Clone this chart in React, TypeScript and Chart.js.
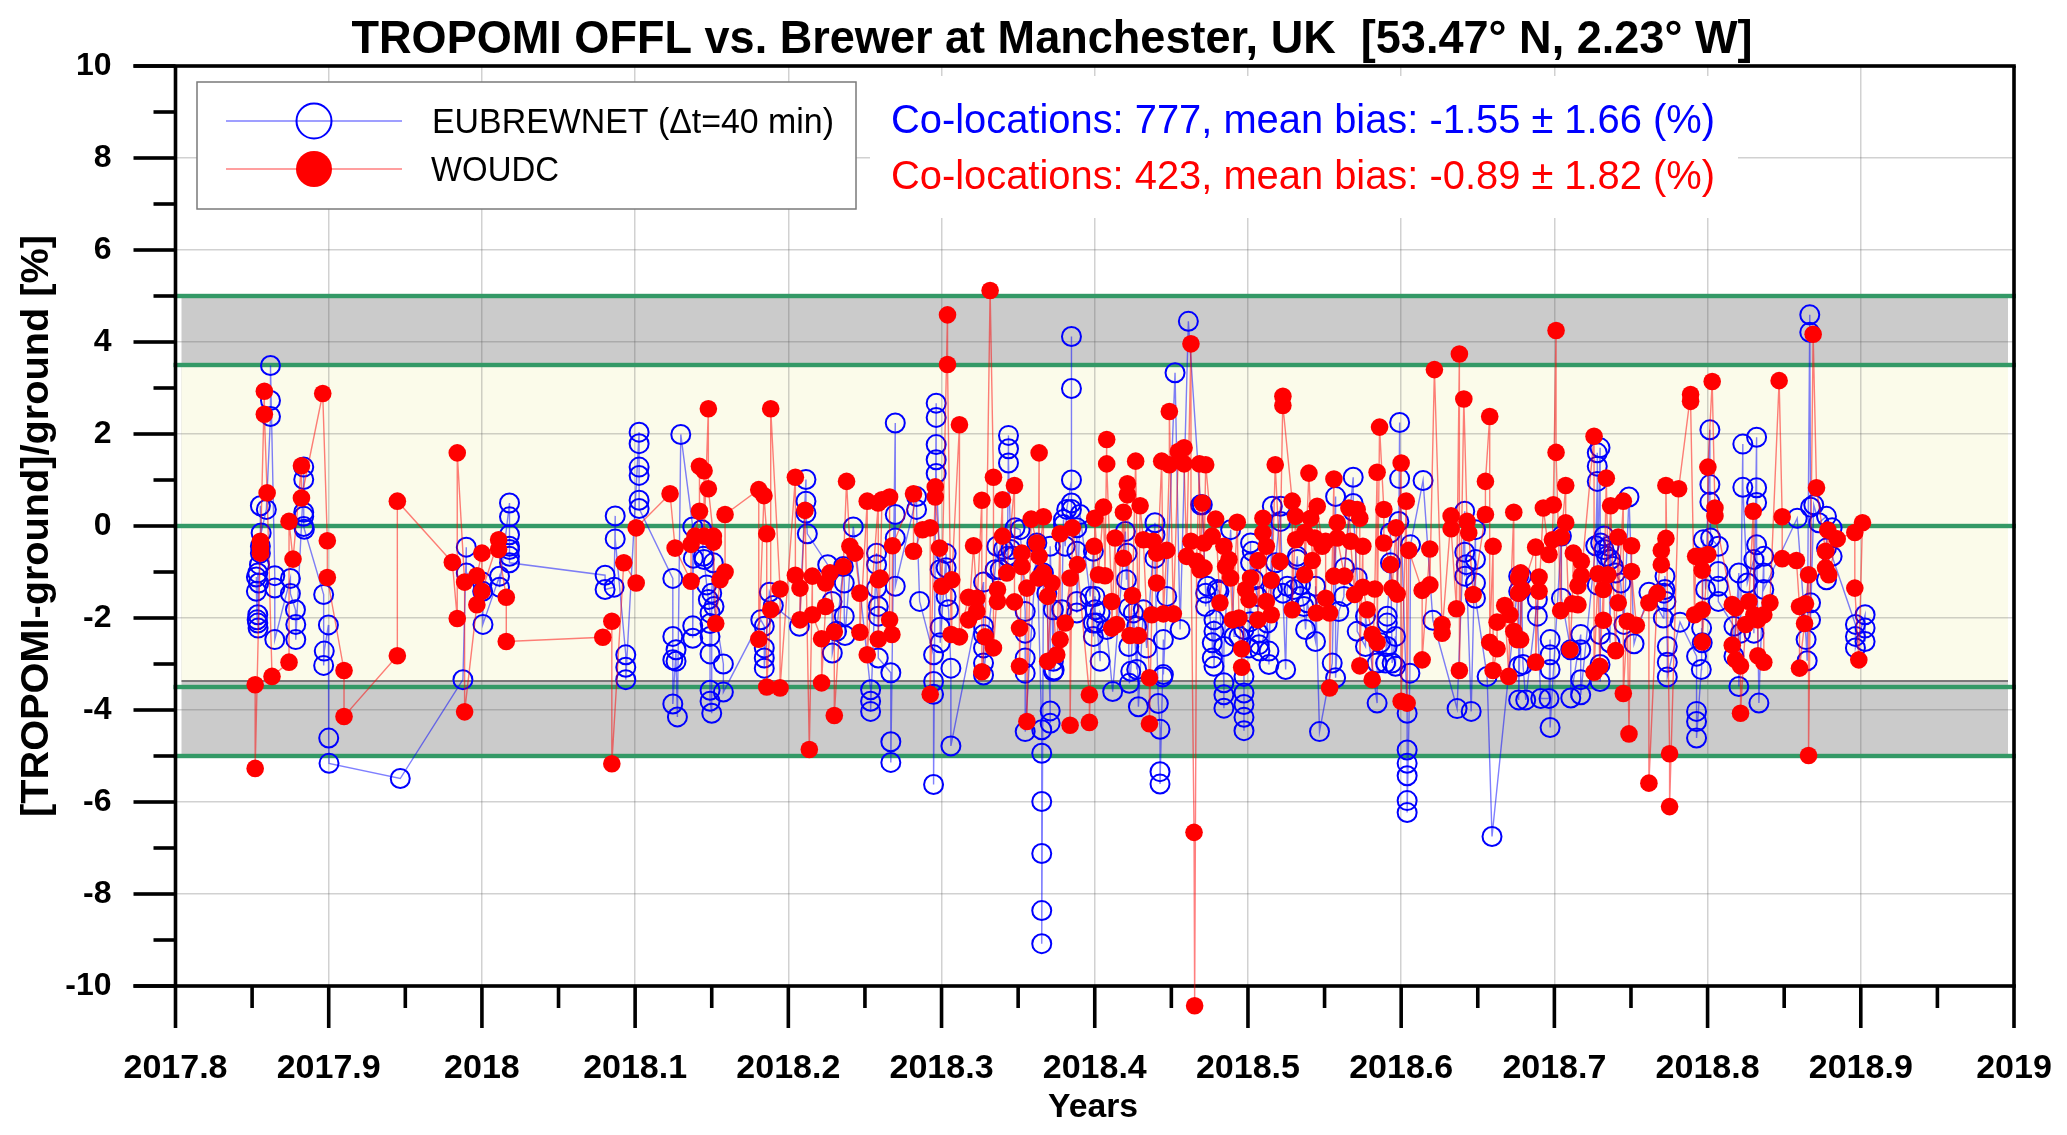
import React, { useEffect, useRef } from "react";
import { Chart, registerables } from "chart.js";

Chart.register(...registerables);

type P = [number, number];

const xTickValues = [2017.8, 2017.9, 2018, 2018.1, 2018.2, 2018.3, 2018.4, 2018.5, 2018.6, 2018.7, 2018.8, 2018.9, 2019];
const xTickLabels = ["2017.8", "2017.9", "2018", "2018.1", "2018.2", "2018.3", "2018.4", "2018.5", "2018.6", "2018.7", "2018.8", "2018.9", "2019"];

const titleText = "TROPOMI OFFL vs. Brewer at Manchester, UK  [53.47° N, 2.23° W]";
const yTitleText = "[TROPOMI-ground]/ground [%]";
const xTitleText = "Years";
const blueStats = "Co-locations: 777, mean bias: -1.55 ± 1.66 (%)";
const redStats = "Co-locations: 423, mean bias: -0.89 ± 1.82 (%)";
const blueName = "EUBREWNET (Δt=40 min)";
const redName = "WOUDC";
const greenLevels = [5, 3.5, 0, -3.5, -5];

const blueA: P[] = [
[2017.8528,-1.11],[2017.8528,-1.42],[2017.8537,-1.93],[2017.8533,-2.04],[2017.8539,-2.22],[2017.8537,-2.11],[2017.8543,-1.24],[2017.8537,-1.02],[2017.8548,-0.84],[2017.8554,-0.59],[2017.8554,-0.44],[2017.8559,-0.15],[2017.8554,0.44],[2017.8593,0.36],[2017.862,2.38],[2017.862,2.73],[2017.862,3.49],[2017.8648,-1.08],[2017.8648,-1.35],[2017.8648,-2.47],
[2017.875,-1.14],[2017.875,-1.47],[2017.8783,-1.82],[2017.8785,-2.14],[2017.8785,-2.47],[2017.8837,1.01],[2017.8837,1.28],[2017.8837,0.3],[2017.8837,0.21],[2017.8837,-0.01],[2017.8841,-0.07],
[2017.8967,-1.49],[2017.8971,-2.72],[2017.8967,-3.03],[2017.8998,-2.15],[2017.9,-4.61],[2017.9002,-5.16],[2017.9467,-5.49],[2017.9876,-3.34],[2017.9898,-0.46],[2017.9898,-1.02],[2018.0003,-1.22],[2018.0005,-1.42],[2018.0007,-2.14],
[2018.0115,-1.09],[2018.0115,-1.33],[2018.018,0.5],[2018.018,0.2],[2018.018,-0.19],[2018.018,-0.44],[2018.018,-0.51],[2018.018,-0.66],[2018.018,-0.8],
[2018.0804,-1.07],[2018.0804,-1.38],[2018.0863,-1.33],[2018.087,0.22],[2018.087,-0.28],[2018.0939,-2.8],[2018.0939,-3.07],[2018.0939,-3.34],
[2018.1026,2.04],[2018.1026,1.79],[2018.1026,1.28],[2018.1026,1.1],[2018.1026,0.56],[2018.1026,0.38],
];

const blueB: P[] = [
[2018.1246,-1.14],[2018.1246,-2.4],[2018.1267,-2.69],[2018.1246,-2.91],[2018.1267,-2.94],[2018.1246,-3.87],[2018.1276,-4.15],[2018.1298,1.99],
[2018.1376,-0.02],[2018.138,-0.7],[2018.1376,-2.17],[2018.1376,-2.44],[2018.1435,-0.08],[2018.1446,-0.66],[2018.145,-0.73],[2018.1467,-1.28],[2018.1478,-1.6],[2018.1489,-1.89],[2018.1489,-2.12],[2018.1489,-2.4],[2018.1489,-2.78],[2018.1489,-3.57],[2018.1489,-3.81],[2018.15,-4.07],[2018.151,-0.8],[2018.15,-1.46],[2018.1515,-1.75],
[2018.1576,-3.0],[2018.1576,-3.61],[2018.182,-2.04],[2018.1843,-2.18],[2018.1843,-2.65],[2018.1843,-2.87],[2018.1843,-3.09],[2018.1876,-1.44],[2018.1902,-1.73],[2018.2072,-2.18],
[2018.2115,1.01],[2018.2115,0.54],[2018.2115,0.28],[2018.2124,-0.17],[2018.2257,-0.84],[2018.2285,-1.64],[2018.2287,-2.76],[2018.2315,-2.29],[2018.2359,-0.88],[2018.2365,-1.24],[2018.2365,-1.96],[2018.237,-2.38],[2018.2424,-0.02],
[2018.2537,-3.56],[2018.2537,-3.81],[2018.2537,-4.03],[2018.2576,-0.59],[2018.2576,-0.84],[2018.2576,-1.35],[2018.2587,-1.75],[2018.2587,-1.96],[2018.2587,-2.87],
[2018.2669,-3.19],[2018.2669,-4.69],[2018.2669,-5.14],[2018.2698,2.24],[2018.2698,0.25],[2018.2698,-0.26],[2018.2698,-1.31],[2018.2837,0.64],[2018.2837,0.36],[2018.2857,-1.64],
];

const blueC: P[] = [
[2018.2948,-2.8],[2018.2948,-3.38],[2018.2948,-3.66],[2018.2948,-5.62],[2018.2965,2.67],[2018.2965,2.36],[2018.2965,1.77],[2018.2965,1.44],[2018.2965,1.14],[2018.2991,-0.95],[2018.2991,-2.2],[2018.2991,-2.54],[2018.303,-0.6],[2018.303,-0.91],[2018.303,-1.53],[2018.3046,-1.82],[2018.3061,-3.09],[2018.3061,-4.78],
[2018.3274,-1.22],[2018.3274,-2.18],[2018.3274,-2.36],[2018.3274,-2.65],[2018.3274,-2.98],[2018.3274,-3.24],[2018.335,-0.95],[2018.3361,-0.44],[2018.3437,1.97],[2018.3437,1.68],[2018.3437,1.37],[2018.3452,-0.51],[2018.343,-0.66],[2018.348,-0.04],[2018.3513,-0.08],
[2018.3546,-1.86],[2018.3546,-2.33],[2018.3546,-2.87],[2018.3546,-3.2],[2018.3546,-4.47],[2018.3622,-0.37],[2018.3654,-4.43],[2018.3654,-4.94],[2018.3654,-5.99],[2018.3654,-7.12],[2018.3654,-8.36],[2018.3654,-9.08],[2018.3665,-1.02],[2018.3687,-1.46],[2018.3709,-4.02],[2018.3709,-4.29],[2018.373,-2.94],[2018.373,-3.16],[2018.3735,-3.13],
[2018.3785,-1.82],[2018.3796,0.14],[2018.3796,0.03],[2018.3807,-0.44],[2018.3817,0.36],[2018.3848,1.0],[2018.3848,2.99],[2018.3848,4.12],[2018.3848,0.5],[2018.3848,0.36],[2018.3883,-0.04],[2018.3883,-0.55],[2018.3883,-1.64],[2018.3904,0.25],
[2018.3991,-0.55],[2018.4002,-1.53],[2018.4002,-1.82],[2018.4013,-2.11],[2018.3991,-2.4],[2018.4035,-2.94],[2018.4117,-3.6],[2018.42,-0.12],[2018.4211,-0.59],[2018.4207,-1.17],[2018.4222,-1.78],[2018.4222,-2.62],[2018.4226,-3.42],[2018.4235,-3.16],
[2018.4274,-3.12],[2018.4285,-3.93],[2018.4317,-1.82],[2018.4393,0.07],[2018.4393,-0.19],[2018.4393,-0.7],[2018.4415,-3.86],[2018.4426,-4.42],[2018.4426,-5.34],[2018.4426,-5.61],[2018.4443,-3.28],[2018.4448,-2.47],[2018.4448,-3.23],[2018.447,-1.53],[2018.4524,3.33],[2018.4557,-2.25],[2018.4611,4.45],[2018.4691,0.46],
];

const blueD: P[] = [
[2018.4702,0.46],[2018.4724,-1.46],[2018.4767,-2.54],[2018.4767,-2.87],[2018.4778,-2.04],[2018.4778,-2.29],[2018.4811,-1.42],[2018.4843,-3.41],[2018.4843,-3.67],[2018.4843,-3.96],[2018.4843,-2.62],[2018.4887,-0.08],[2018.4909,-2.4],
[2018.4974,-3.27],[2018.4974,-3.63],[2018.4974,-3.88],[2018.4974,-4.16],[2018.4974,-4.45],[2018.5007,-2.65],[2018.5017,-0.37],[2018.5028,-0.55],[2018.5017,-0.8],[2018.5039,-1.17],[2018.5061,-1.53],[2018.5068,-2.33],[2018.5078,-2.72],[2018.5137,-2.72],[2018.5137,-3.01],
[2018.5159,0.43],[2018.5159,-1.38],[2018.518,-0.8],[2018.5213,0.43],[2018.5213,0.1],[2018.5228,-1.46],[2018.5246,-3.12],[2018.53,-1.38],[2018.5322,-0.66],[2018.5322,-0.73],[2018.5343,-1.53],[2018.5376,-2.25],[2018.5387,-1.67],[2018.5441,-2.51],[2018.5441,-1.31],[2018.5467,-4.47],
[2018.555,-2.98],[2018.5572,0.64],[2018.5572,-3.3],[2018.5593,-1.86],[2018.563,-0.91],[2018.5687,1.06],[2018.5687,0.49],[2018.5687,0.32],[2018.5713,-1.13],[2018.5713,-2.29],[2018.5767,-2.62],[2018.5767,-1.96],[2018.5843,-3.85],[2018.5843,-2.98],[2018.5898,-2.98],[2018.5909,-2.11],[2018.5909,-2.62],[2018.593,-0.8],[2018.593,-0.15],[2018.5963,-2.4],[2018.5963,-3.05],[2018.5985,0.1],[2018.599,2.25],[2018.599,1.03],
[2018.6039,-4.07],[2018.6039,-4.87],[2018.6039,-5.16],[2018.6039,-5.43],[2018.6039,-5.97],[2018.6039,-6.23],[2018.6057,-3.2],[2018.6061,-0.41],[2018.6143,0.99],[2018.6207,-2.05],[2018.6365,-3.97],[2018.6415,0.32],[2018.6415,-0.57],[2018.6415,-1.09],[2018.6425,-0.84],[2018.6457,-4.03],[2018.6485,-0.08],[2018.6485,-0.73],[2018.6485,-1.24],[2018.6485,-1.57],[2018.6561,-3.27],[2018.6593,-6.75],[2018.6767,-1.09],[2018.6767,-1.42],[2018.6767,-3.05],[2018.6767,-3.78],
];

const blueE: P[] = [
[2018.6785,-1.09],[2018.6795,-3.01],[2018.6813,-3.78],[2018.6889,-1.6],[2018.6889,-1.96],[2018.6911,-3.75],[2018.6972,-2.47],[2018.6972,-2.8],[2018.6972,-3.12],[2018.6965,-3.75],[2018.6972,-4.38],[2018.7046,-0.22],[2018.7046,-1.57],[2018.7107,-2.69],[2018.7107,-3.74],[2018.7172,-2.36],[2018.7172,-2.69],[2018.7172,-3.34],[2018.7172,-3.67],
[2018.727,-0.43],[2018.728,0.97],[2018.728,1.3],[2018.7298,1.7],[2018.728,1.59],[2018.728,-1.28],[2018.7298,-2.36],[2018.7298,-3.01],[2018.7298,-3.38],[2018.7324,-0.22],[2018.7324,-0.51],[2018.7341,-0.66],[2018.7363,-2.54],[2018.7367,-0.73],[2018.74,-1.02],[2018.7433,-1.24],[2018.7454,-2.14],[2018.7487,0.63],[2018.752,-2.56],
[2018.7617,-1.44],[2018.7711,-2.0],[2018.7722,-1.09],[2018.7722,-1.38],[2018.7728,-1.64],[2018.7737,-2.62],[2018.7737,-2.96],[2018.7737,-3.28],[2018.782,-2.09],
[2018.7928,-2.83],[2018.7928,-4.03],[2018.7928,-4.25],[2018.7928,-4.61],[2018.7965,-2.54],[2018.7961,-2.22],[2018.7959,-3.12],[2018.7987,-1.38],[2018.7972,-0.3],[2018.8015,2.09],[2018.8015,0.9],[2018.8015,0.52],[2018.802,-0.26],[2018.807,-0.44],[2018.807,-0.99],[2018.807,-1.31],[2018.807,-1.64],
[2018.8172,-2.18],[2018.8172,-2.83],[2018.8204,-1.02],[2018.8204,-3.49],[2018.8215,-2.33],[2018.823,1.78],[2018.823,0.84],[2018.8259,-1.24],[2018.8302,-0.73],[2018.832,1.93],[2018.832,0.83],[2018.832,0.51],[2018.832,-0.41],[2018.8335,-3.85],[2018.8367,-0.66],[2018.8367,-1.02],[2018.8367,-1.38],
[2018.8585,0.17],[2018.8643,-2.47],[2018.865,-2.93],[2018.8667,4.59],[2018.8667,4.21],[2018.8672,0.41],[2018.8672,-1.67],[2018.8672,-2.04],[2018.8693,0.46],[2018.8726,0.07],[2018.8776,0.21],[2018.8776,-0.48],[2018.8776,-1.17],[2018.8813,-0.04],[2018.8813,-0.66],
[2018.8965,-2.14],[2018.8965,-2.4],[2018.8965,-2.65],[2018.9028,-1.93],[2018.9028,-2.22],[2018.9028,-2.51],
];

const blueF: P[] = [
[2018.3383,-0.95],[2018.3404,-0.51],[2018.347,-0.66],[2018.3709,-0.44],[2018.373,-1.82],[2018.3883,-1.89],[2018.397,-1.53],[2018.3991,-2.11],[2018.4035,-1.89],[2018.4078,-2.25],[2018.4252,-1.89],[2018.4274,-2.18],[2018.4339,-2.65],
[2018.4724,-1.75],[2018.4735,-1.31],[2018.4778,-3.05],[2018.48,-1.38],[2018.4941,-2.4],[2018.4974,-2.25],[2018.5017,-2.08],[2018.5072,-2.58],[2018.5126,-2.11],[2018.5257,-1.31],[2018.5343,-1.28],[2018.5365,-1.75],[2018.5626,-1.53],[2018.5865,-2.54],[2018.5909,-1.96],[2018.5941,-2.98],
[2018.7302,-0.37],[2018.7357,-0.44],[2018.7385,-0.88],[2018.7715,-1.46],[2018.8302,-2.33],
];

const redA: P[] = [
[2017.852,-3.45],[2017.852,-5.27],[2017.8554,-0.33],[2017.8554,-0.48],[2017.8554,-0.59],[2017.858,2.93],[2017.858,2.43],[2017.8598,0.72],[2017.863,-3.27],[2017.8741,-2.96],[2017.8741,0.1],[2017.8767,-0.72],[2017.8822,1.31],[2017.8822,0.61],
[2017.8961,2.88],[2017.8991,-0.32],[2017.8991,-1.12],[2017.91,-3.14],[2017.91,-4.14],[2017.9448,-2.82],[2017.9448,0.54],[2017.9807,-0.79],[2017.9839,-2.01],[2017.9839,1.59],[2017.9887,-1.22],[2017.9887,-4.04],[2017.9967,-1.71],[2017.9967,-1.08],[2018.0,-0.59],[2018.0,-1.42],[2018.0109,-0.3],[2018.0109,-0.51],[2018.0159,-1.55],[2018.0159,-2.51],
[2018.0789,-2.42],[2018.0848,-2.07],[2018.0848,-5.17],[2018.0926,-0.8],[2018.1007,-1.24],[2018.1007,-0.04],
[2018.1228,0.7],[2018.1261,-0.48],[2018.1365,-1.2],[2018.1365,-0.4],[2018.1391,-0.22],[2018.142,0.32],[2018.142,1.3],[2018.145,1.2],[2018.145,-0.22],[2018.1478,2.55],[2018.1478,0.81],[2018.1511,-0.22],[2018.1511,-0.35],[2018.1526,-2.12],[2018.1554,-1.17],[2018.1587,-1.0],[2018.1587,0.25],
[2018.1807,0.79],[2018.1807,-2.46],[2018.1841,0.66],[2018.1859,-0.17],[2018.1859,-3.5],[2018.1885,-1.82],[2018.1885,2.55],[2018.1946,-1.37],[2018.1946,-3.52],[2018.2046,1.06],[2018.2046,-1.07],[2018.2076,-1.35],[2018.2076,-2.04],[2018.2109,0.34],[2018.2137,-4.86],[2018.2157,-1.09],[2018.2157,-1.93],[2018.2217,-2.45],[2018.2217,-3.41],[2018.2243,-1.75],[2018.2243,-1.24],[2018.2272,-1.02],[2018.23,-2.3],[2018.23,-4.12],
[2018.2359,-0.88],[2018.238,0.97],[2018.2402,-0.44],[2018.2435,-0.59],[2018.2467,-1.46],[2018.2467,-2.31],[2018.2515,0.54],[2018.2515,-2.8],[2018.2587,0.5],[2018.2587,-1.17],[2018.2587,-2.46],
];

const redB: P[] = [
[2018.2611,0.57],[2018.26,-1.13],[2018.2661,0.63],[2018.2661,-2.04],[2018.268,-0.43],[2018.2676,-2.36],[2018.2817,0.7],[2018.2817,-0.55],[2018.2876,-0.08],[2018.2926,-0.04],[2018.2926,-3.66],[2018.2959,0.85],[2018.2959,0.63],[2018.2987,-0.48],[2018.3002,-1.31],[2018.3039,4.59],[2018.3039,3.51],[2018.3063,-2.36],[2018.3067,-1.17],[2018.3117,2.2],[2018.3117,-2.41],
[2018.3176,-1.55],[2018.3176,-2.04],[2018.3209,-0.43],[2018.323,-1.57],[2018.323,-1.86],[2018.3263,0.56],[2018.3263,-3.17],[2018.3285,-2.41],[2018.3317,5.12],[2018.3339,1.06],[2018.3339,-2.65],[2018.3365,-1.38],[2018.3365,-1.64],[2018.3398,0.57],[2018.3398,-0.22],[2018.3426,-1.02],[2018.3476,0.88],[2018.3476,-1.65],
[2018.3509,-2.22],[2018.3509,-3.05],[2018.3524,-0.59],[2018.3524,-0.88],[2018.3557,-1.35],[2018.3557,-4.25],[2018.3585,0.15],[2018.3622,-0.37],[2018.3632,-1.13],[2018.3637,1.59],[2018.3637,-0.66],[2018.3665,0.2],[2018.3665,-1.02],[2018.3693,-1.53],[2018.3693,-2.94],[2018.372,-1.24],[2018.3752,-2.8],
[2018.3774,-0.17],[2018.3774,-2.47],[2018.3807,-2.11],[2018.3839,-1.13],[2018.3839,-4.33],[2018.3854,-0.04],[2018.3887,-0.84],[2018.3965,-3.67],[2018.3965,-4.27],[2018.3996,-0.44],[2018.4,0.17],[2018.4024,-1.06],[2018.4057,0.41],[2018.4067,-1.08],[2018.4078,1.88],[2018.4078,1.35],[2018.4111,-1.64],[2018.4111,-2.22],
[2018.4133,-0.26],[2018.4143,-2.14],[2018.4187,0.3],[2018.4187,-0.7],[2018.4213,0.92],[2018.4213,0.68],[2018.423,-2.38],[2018.4246,-1.51],[2018.4267,1.41],[2018.4285,-2.38],[2018.4296,0.44],[2018.4317,-0.3],[2018.4372,-1.93],[2018.4357,-3.3],[2018.4357,-4.3],[2018.4382,-0.33],[2018.4404,-0.59],[2018.4404,-1.24],[2018.4437,1.41],[2018.4448,-1.91],[2018.447,-0.53],[2018.4487,1.33],[2018.4487,2.49],[2018.4513,-1.91],[2018.4546,1.62],[2018.4583,1.7],[2018.4583,1.35],[2018.46,-0.66],[2018.4628,3.96],[2018.4628,-0.33],[2018.4648,-6.66],[2018.4652,-10.43],[2018.4665,-0.77],[2018.4683,1.35],[2018.4687,-0.95],
];

const redC: P[] = [
[2018.4702,0.5],[2018.4713,-0.37],[2018.4713,-0.91],[2018.4724,1.33],[2018.4767,-0.22],[2018.4789,0.15],[2018.4817,-1.67],[2018.4843,-0.44],[2018.4854,-0.88],[2018.4876,-0.73],[2018.4887,-1.13],[2018.4898,-2.04],[2018.493,0.08],[2018.4941,-2.0],[2018.4959,-2.67],[2018.4959,-3.07],
[2018.4985,-1.38],[2018.5007,-1.6],[2018.5017,-1.13],[2018.5065,-0.75],[2018.5065,-2.04],[2018.5098,0.17],[2018.5098,-0.15],[2018.512,-0.44],[2018.512,-1.64],[2018.5152,-1.18],[2018.5152,-1.93],[2018.5178,1.33],[2018.5209,-0.77],[2018.5228,2.82],[2018.5228,2.62],[2018.5289,0.54],[2018.5289,-1.82],[2018.5311,0.21],[2018.5311,-0.3],
[2018.537,-0.14],[2018.537,-1.06],[2018.5398,1.15],[2018.5409,0.17],[2018.542,-0.75],[2018.5446,-1.89],[2018.5452,0.43],[2018.5435,-0.26],[2018.5485,-0.44],[2018.5507,-0.33],[2018.5507,-1.57],[2018.5533,-1.89],[2018.5533,-3.52],[2018.5561,1.02],[2018.5561,-1.09],[2018.5583,0.07],[2018.5583,-0.26],[2018.563,-1.09],[2018.5659,0.39],[2018.567,-0.33],[2018.5696,-1.49],[2018.5713,0.36],[2018.573,0.17],[2018.573,-3.04],[2018.575,-0.44],[2018.575,-1.33],[2018.5778,-1.82],
[2018.5811,-2.36],[2018.5811,-3.34],[2018.5843,1.17],[2018.5843,-2.53],[2018.5859,2.15],[2018.5828,-1.37],[2018.5887,0.36],[2018.5887,-0.37],[2018.593,-0.84],[2018.5941,-1.35],[2018.5967,-0.04],[2018.5974,-1.48],[2018.6,1.37],[2018.6,-3.81],[2018.6033,0.54],[2018.6039,-3.85],[2018.605,-0.53],[2018.6137,-1.4],[2018.6137,-2.91],[2018.6187,-0.5],[2018.6187,-1.28],[2018.6217,3.4],[2018.6267,-2.14],[2018.6267,-2.33],
[2018.6326,0.22],[2018.6326,-0.06],[2018.6361,-1.8],[2018.638,3.74],[2018.638,-3.14],[2018.6409,2.76],[2018.643,0.1],[2018.6441,-0.15],[2018.647,-1.49],[2018.655,0.25],[2018.655,0.97],[2018.6578,2.38],[2018.6578,-2.53],[2018.66,-0.44],[2018.66,-3.14],[2018.6626,-2.67],[2018.6626,-2.09],[2018.6676,-1.73],[2018.6702,-3.27],[2018.671,-1.93],[2018.6735,0.3],[2018.6735,-2.29],[2018.6757,-2.47],[2018.6767,-1.13],[2018.6767,-1.46],
];

const redD: P[] = [
[2018.678,-1.02],[2018.679,-1.38],[2018.678,-2.47],[2018.6878,-0.46],[2018.6878,-2.96],[2018.69,-1.11],[2018.69,-1.42],[2018.6928,0.39],[2018.6965,-0.62],[2018.6987,-0.3],[2018.6993,0.46],[2018.7011,4.25],[2018.7011,1.6],[2018.7041,-1.84],[2018.7046,-0.24],[2018.7074,0.88],[2018.7074,0.07],[2018.7102,-2.69],[2018.7117,-1.69],[2018.7154,-1.71],[2018.7124,-0.59],[2018.7176,-0.77],[2018.7176,-1.08],[2018.7154,-1.3],
[2018.7259,1.95],[2018.7259,-3.18],[2018.7285,-1.04],[2018.7296,-3.05],[2018.732,-1.38],[2018.732,-2.05],[2018.7339,1.04],[2018.735,-1.06],[2018.7367,0.44],[2018.74,-2.71],[2018.7417,-0.24],[2018.7417,-1.67],[2018.745,0.54],[2018.745,-3.64],[2018.7476,-2.07],[2018.7487,-4.52],[2018.7504,-0.43],[2018.7504,-0.99],[2018.7535,-2.16],
[2018.7617,-1.67],[2018.7617,-5.59],[2018.7672,-1.46],[2018.7698,-0.53],[2018.7698,-0.84],[2018.7728,-0.27],[2018.7728,0.88],[2018.7752,-4.95],[2018.7752,-6.1],[2018.7811,0.81],[2018.7889,2.86],[2018.7889,2.71],[2018.7915,-1.93],[2018.7922,-0.66],[2018.7965,-0.66],[2018.7965,-0.96],[2018.7965,-1.82],[2018.7965,-2.52],[2018.8002,-0.62],[2018.8002,1.28],[2018.803,3.14],[2018.8048,0.39],[2018.8048,0.22],
[2018.8161,-1.71],[2018.8161,-2.59],[2018.8183,-2.91],[2018.8183,-1.78],[2018.8215,-3.04],[2018.8215,-4.07],[2018.8248,-2.14],[2018.827,-1.64],[2018.8298,0.32],[2018.8302,-1.93],[2018.8328,-2.04],[2018.8328,-2.82],[2018.8367,-2.96],[2018.8367,-1.93],[2018.8407,-1.67],[2018.8467,3.16],[2018.8487,0.2],[2018.8487,-0.71],[2018.858,-0.75],
[2018.86,-1.75],[2018.86,-3.09],[2018.8633,-2.12],[2018.8639,-1.69],[2018.8659,-1.06],[2018.8659,-4.99],[2018.8689,4.17],[2018.8711,0.83],[2018.877,-0.55],[2018.877,-0.91],[2018.8785,-0.09],[2018.8791,-1.06],[2018.8846,-0.28],[2018.8961,-0.14],[2018.8961,-1.35],[2018.8987,-2.91],[2018.9011,0.07],
];

const byTime = (chunks: P[][]) =>
  chunks.flat().map((p, i) => ({ x: p[0], y: p[1], i }))
    .sort((a, b) => a.x - b.x || a.i - b.i)
    .map(({ x, y }) => ({ x, y }));

const RED_RADIUS = 8.8;

function fit(ctx: CanvasRenderingContext2D, text: string, cx: number, cy: number, w: number, font: string, color: string, rotate = false) {
  ctx.save();
  ctx.font = font;
  ctx.fillStyle = color;
  ctx.textAlign = "center";
  ctx.textBaseline = "alphabetic";
  ctx.translate(cx, cy);
  if (rotate) ctx.rotate(-Math.PI / 2);
  ctx.scale(w / ctx.measureText(text).width, 1);
  ctx.fillText(text, 0, 0);
  ctx.restore();
}

const decor = {
  id: "decor",
  beforeDraw(chart: any) {
    const { ctx, scales: { x, y } } = chart;
    const X0 = x.left + 6, X1 = x.right - 6;
    const band = (a: number, b: number, c: string) => {
      ctx.fillStyle = c;
      ctx.fillRect(X0, y.getPixelForValue(a), X1 - X0, y.getPixelForValue(b) - y.getPixelForValue(a));
    };
    band(5, -5, "#cbcbcb");
    band(3.5, -3.37, "#fbfbea");
    ctx.fillStyle = "#777";
    ctx.fillRect(X0, y.getPixelForValue(-3.37) - 1, X1 - X0, 2);
  },
  beforeDatasetsDraw(chart: any) {
    const { ctx, scales: { x, y } } = chart;
    ctx.save();
    ctx.fillStyle = "#fff";
    ctx.fillRect(870, 76, 868, 142);
    ctx.fillRect(197, 82, 659, 127);
    ctx.strokeStyle = "#7a7a7a";
    ctx.lineWidth = 1.5;
    ctx.strokeRect(197, 82, 659, 127);
    ctx.fillStyle = "#339966";
    for (const v of greenLevels) ctx.fillRect(x.left - 2, y.getPixelForValue(v) - 2.2, x.right - x.left + 4, 4.4);
    ctx.fillStyle = "#000";
    ctx.fillRect(x.left - 42, y.top - 1.8, x.right - x.left + 43.8, 3.6);
    ctx.fillRect(x.left - 42, y.bottom - 1.8, x.right - x.left + 43.8, 3.6);
    ctx.fillRect(x.left - 1.8, y.top, 3.6, y.bottom - y.top);
    ctx.fillRect(x.right - 1.8, y.top, 3.6, y.bottom - y.top);
    for (const t of y.ticks) {
      const major = Math.abs(t.value % 2) < 1e-6;
      ctx.fillRect(x.left - (major ? 42 : 22), y.getPixelForValue(t.value) - 1.8, major ? 42 : 22, 3.6);
    }
    for (const t of x.ticks) {
      const major = t.label !== "";
      ctx.fillRect(x.getPixelForValue(t.value) - 1.8, y.bottom, 3.6, major ? 42 : 22);
    }
    ctx.lineWidth = 1.3;
    ctx.strokeStyle = "rgba(0,0,255,.5)";
    ctx.beginPath(); ctx.moveTo(226, 121); ctx.lineTo(402, 121); ctx.stroke();
    ctx.strokeStyle = "rgba(255,0,0,.5)";
    ctx.beginPath(); ctx.moveTo(226, 169); ctx.lineTo(402, 169); ctx.stroke();
    ctx.strokeStyle = "#0000ff";
    ctx.lineWidth = 2;
    ctx.beginPath(); ctx.arc(314, 121, 17.5, 0, Math.PI * 2); ctx.stroke();
    ctx.fillStyle = "#ff0000";
    ctx.beginPath(); ctx.arc(314, 169, 18, 0, Math.PI * 2); ctx.fill();
    ctx.restore();
    const reg = '35px "Liberation Sans"';
    fit(ctx, blueName, 633, 133, 402, reg, "#000");
    fit(ctx, redName, 495, 181, 128, reg, "#000");
    const big = '41px "Liberation Sans"';
    fit(ctx, blueStats, 1303, 133, 824, big, "#0000ff");
    fit(ctx, redStats, 1303, 189, 824, big, "#ff0000");
    fit(ctx, titleText, 1052, 53, 1401, 'bold 46px "Liberation Sans"', "#000");
    fit(ctx, yTitleText, 48, 526, 582, 'bold 38px "Liberation Sans"', "#000", true);
    fit(ctx, xTitleText, 1093, 1117, 90, 'bold 33px "Liberation Sans"', "#000");
  },
  afterDatasetsDraw(chart: any) {
    // Chart.js skips points outside the chart area; the one below the axis is still a data mark.
    const { ctx, scales: { y } } = chart;
    const meta = chart.getDatasetMeta(1);
    ctx.save();
    ctx.fillStyle = "#ff0000";
    meta.data.forEach((pt: any, i: number) => {
      const d = chart.data.datasets[1].data[i] as any;
      if (d.y < y.min) {
        ctx.beginPath();
        ctx.arc(pt.x, pt.y, RED_RADIUS, 0, Math.PI * 2);
        ctx.fill();
      }
    });
    ctx.restore();
  },
};

export default function App() {
  const ref = useRef<HTMLCanvasElement>(null);
  useEffect(() => {
    document.body.style.margin = "0";
    const chart = new Chart(ref.current!, {
      type: "line",
      data: {
        datasets: [
          {
            label: blueName, order: 2, data: byTime([blueA, blueB, blueC, blueD, blueE, blueF]),
            borderColor: "rgba(0,0,255,.5)", borderWidth: 1.4, tension: 0, clip: false as any,
            pointRadius: 9.5, pointBorderColor: "#0000ff", pointBorderWidth: 2, pointBackgroundColor: "rgba(0,0,0,0)",
          },
          {
            label: redName, order: 1, data: byTime([redA, redB, redC, redD]),
            borderColor: "rgba(255,0,0,.5)", borderWidth: 1.4, tension: 0, clip: false as any,
            pointRadius: RED_RADIUS, pointBorderWidth: 0, pointBackgroundColor: "#ff0000",
          },
        ],
      },
      plugins: [decor],
      options: {
        responsive: false,
        animation: false,
        devicePixelRatio: 1,
        parsing: false as any,
        normalized: false,
        layout: { padding: { top: 66, right: 53, left: 0, bottom: 0 } },
        plugins: { legend: { display: false }, tooltip: { enabled: false }, title: { display: false } },
        scales: {
          x: {
            type: "linear", min: 2017.8, max: 2019,
            afterFit: (s: any) => { s.height = 149; s.paddingLeft = 0; s.paddingRight = 0; },
            border: { display: false },
            grid: {
              drawTicks: false,
              color: (c: any) => (c.tick && c.tick.label !== "" ? "rgba(90,90,90,.28)" : "rgba(0,0,0,0)"),
              lineWidth: 1.5,
            },
            ticks: {
              stepSize: 0.05, autoSkip: false, maxRotation: 0, minRotation: 0, padding: 62, color: "#000",
              font: { family: "Liberation Sans", weight: "bold", size: 34 },
              callback: (v: any) => {
                const i = xTickValues.findIndex((t) => Math.abs(t - v) < 1e-6);
                return i >= 0 ? xTickLabels[i] : "";
              },
            },
          },
          y: {
            type: "linear", min: -10, max: 10,
            afterFit: (s: any) => { s.width = 175.5; s.paddingTop = 0; s.paddingBottom = 0; },
            border: { display: false },
            grid: {
              drawTicks: false,
              color: (c: any) => (c.tick && Math.abs(c.tick.value % 2) < 1e-6 ? "rgba(90,90,90,.28)" : "rgba(0,0,0,0)"),
              lineWidth: 1.5,
            },
            ticks: {
              stepSize: 1, autoSkip: false, padding: 64, color: "#000",
              font: { family: "Liberation Sans", weight: "bold", size: 32 },
              callback: (v: any) => (Math.abs(v % 2) < 1e-6 ? String(v) : ""),
            },
          },
        },
      } as any,
    });
    return () => chart.destroy();
  }, []);
  return <canvas ref={ref} width={2067} height={1135} style={{ position: "fixed", left: 0, top: 0, width: 2067, height: 1135 }} />;
}
